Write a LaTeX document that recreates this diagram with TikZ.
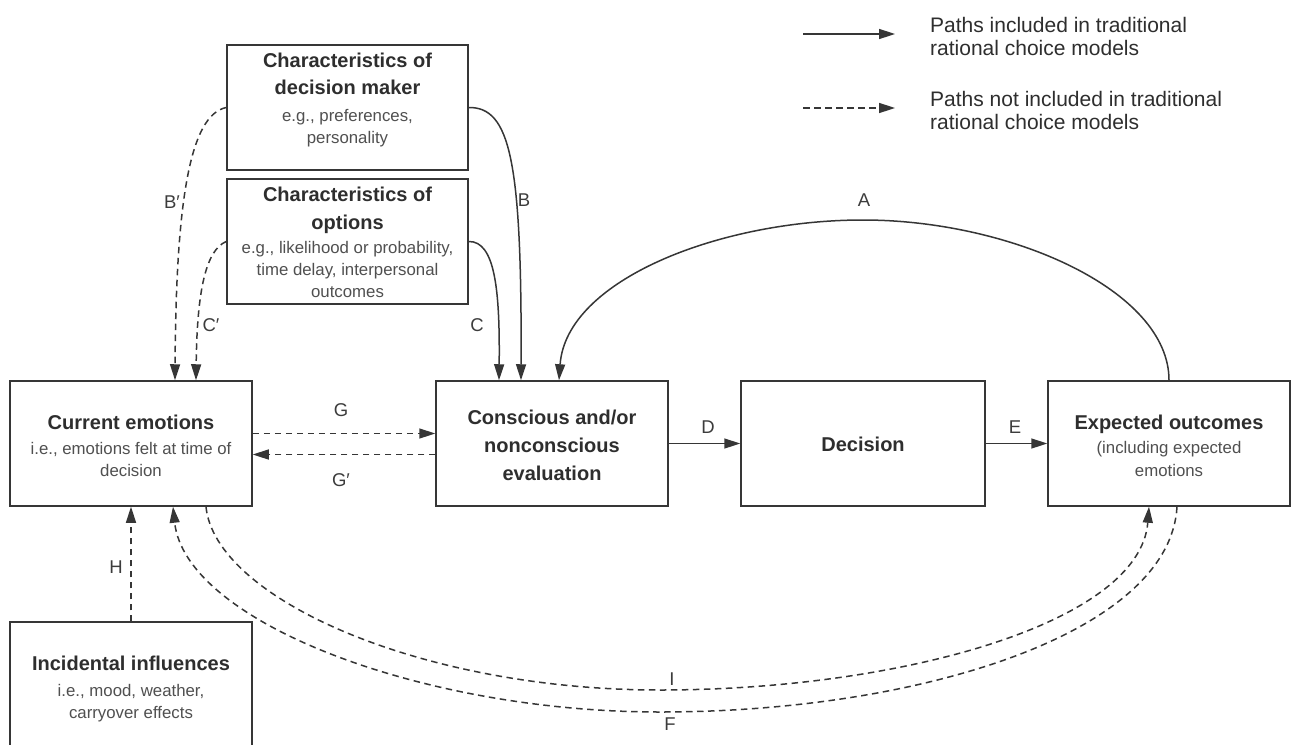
\documentclass[tikz,border=0pt]{standalone}
\usepackage{fontspec}
\setmainfont{Liberation Sans}
\usetikzlibrary{arrows.meta}
\definecolor{ln}{HTML}{363636}
\definecolor{tt}{HTML}{2E2E2E}
\definecolor{st}{HTML}{505050}
\definecolor{lc}{HTML}{3C3C3C}
\begin{document}
\begin{tikzpicture}[x=1pt,y=-1pt,
  box/.style={draw=ln, line width=1.5pt, fill=white, inner sep=0pt, minimum height=125pt},
  ttl/.style={font=\fontsize{20}{27}\selectfont\bfseries, text=tt, anchor=base, inner sep=0pt},
  sub/.style={font=\fontsize{16.8}{22}\selectfont, text=st, anchor=base, inner sep=0pt},
  lbl/.style={font=\fontsize{18.5}{22}\selectfont, text=lc, inner sep=0pt},
  leg/.style={font=\fontsize{21}{24}\selectfont, text=tt, anchor=base west, inner sep=0pt},
  sol/.style={draw=ln, line width=1.5pt, -{Triangle[length=16pt,width=10pt]}},
  dsh/.style={sol, dash pattern=on 6.5pt off 4.5pt}]
\useasboundingbox (0,0) rectangle (1292,744);
\fill[white] (0,0) rectangle (1292,744);

% boxes
\node[box, minimum width=241pt] (dm) at (347.5,107.5) {};
\node[box, minimum width=241pt] (opt) at (347.5,241.5) {};
\node[box, minimum width=242pt] (ce) at (131,443.5) {};
\node[box, minimum width=232pt] (cv) at (552,443.5) {};
\node[box, minimum width=244pt] (dec) at (863,443.5) {};
\node[box, minimum width=242pt] (ex) at (1169,443.5) {};
\node[box, minimum width=242pt, minimum height=140pt] (inc) at (131,692) {};

% box texts
\node[ttl] (dm1) at (347.5,67) {Characteristics of};
\node[ttl] (dm2) at (347.5,94) {decision maker};
\node[sub] (dm3) at (347.5,121) {e.g., preferences,};
\node[sub] (dm4) at (347.5,143) {personality};

\node[ttl] (op1) at (347.5,201.5) {Characteristics of};
\node[ttl] (op2) at (347.5,229) {options};
\node[sub] (op3) at (347.5,253.5) {e.g., likelihood or probability,};
\node[sub] (op4) at (347.5,275) {time delay, interpersonal};
\node[sub] (op5) at (347.5,297.5) {outcomes};

\node[ttl] (ce1) at (131,429.5) {Current emotions};
\node[sub] (ce2) at (131,454.5) {i.e., emotions felt at time of};
\node[sub] (ce3) at (131,476.5) {decision};

\node[ttl] (cv1) at (552,424.5) {Conscious and/or};
\node[ttl] (cv2) at (552,452.5) {nonconscious};
\node[ttl] (cv3) at (552,480.5) {evaluation};

\node[ttl] (de1) at (863,451.5) {Decision};

\node[ttl] (ex1) at (1169,429.5) {Expected outcomes};
\node[sub] (ex2) at (1169,453.5) {(including expected};
\node[sub] (ex3) at (1169,476.5) {emotions};

\node[ttl] (in1) at (131,670.5) {Incidental influences};
\node[sub] (in2) at (131,696.5) {i.e., mood, weather,};
\node[sub] (in3) at (131,718.5) {carryover effects};

% legend
\coordinate (l1a) at (803,34);
\coordinate (l1b) at (895,34);
\coordinate (l2a) at (803,108);
\coordinate (l2b) at (895,108);
\draw[sol] (l1a) -- (l1b);
\draw[dsh] (l2a) -- (l2b);
\node[leg] (lg1) at (930,32) {Paths included in traditional};
\node[leg] (lg2) at (930,55) {rational choice models};
\node[leg] (lg3) at (930,106) {Paths not included in traditional};
\node[leg] (lg4) at (930,129) {rational choice models};

% solid paths
\draw[sol] (dm.east) .. controls (510,107) and (522,160) .. ([xshift=-31pt]cv.north);
\draw[sol] (opt.east) .. controls (495,241) and (500,290) .. ([xshift=-53pt]cv.north);
\draw[sol] (ex.north) .. controls (1169,290) and (1010,220) .. (863,220)
  .. controls (720,220) and (566,280) .. ([xshift=7pt]cv.north);
\draw[sol] (cv.east) -- (dec.west);
\draw[sol] (dec.east) -- (ex.west);

% dashed paths
\draw[dsh] (dm.west) .. controls (190,115) and (176,200) .. ([xshift=44pt]ce.north);
\draw[dsh] (opt.west) .. controls (206,250) and (197,290) .. ([xshift=65pt]ce.north);
\draw[dsh] ([yshift=10pt]ce.east) -- ([yshift=10pt]cv.west);
\draw[dsh] ([yshift=-11pt]cv.west) -- ([yshift=-11pt]ce.east);
\draw[dsh] (inc.north) -- (ce.south);
\draw[dsh] ([xshift=75pt]ce.south) .. controls (215,598) and (420,690) .. (660,690)
  .. controls (900,690) and (1140,623) .. ([xshift=-20pt]ex.south);
\draw[dsh] ([xshift=8pt]ex.south) .. controls (1170,633) and (920,712) .. (660,712)
  .. controls (420,712) and (185,621) .. ([xshift=42pt]ce.south);

% labels
\node[lbl] (lA) at (864,200) {A};
\node[lbl] (lB) at (524,200) {B};
\node[lbl] (lBp) at (172,202) {B′};
\node[lbl] (lC) at (477,325) {C};
\node[lbl] (lCp) at (211,325) {C′};
\node[lbl] (lG) at (341,410) {G};
\node[lbl] (lGp) at (341,480) {G′};
\node[lbl] (lD) at (708,427) {D};
\node[lbl] (lE) at (1015,427) {E};
\node[lbl] (lH) at (116,567) {H};
\node[lbl] (lI) at (672,679) {I};
\node[lbl] (lF) at (670,724) {F};
\end{tikzpicture}
\end{document}
